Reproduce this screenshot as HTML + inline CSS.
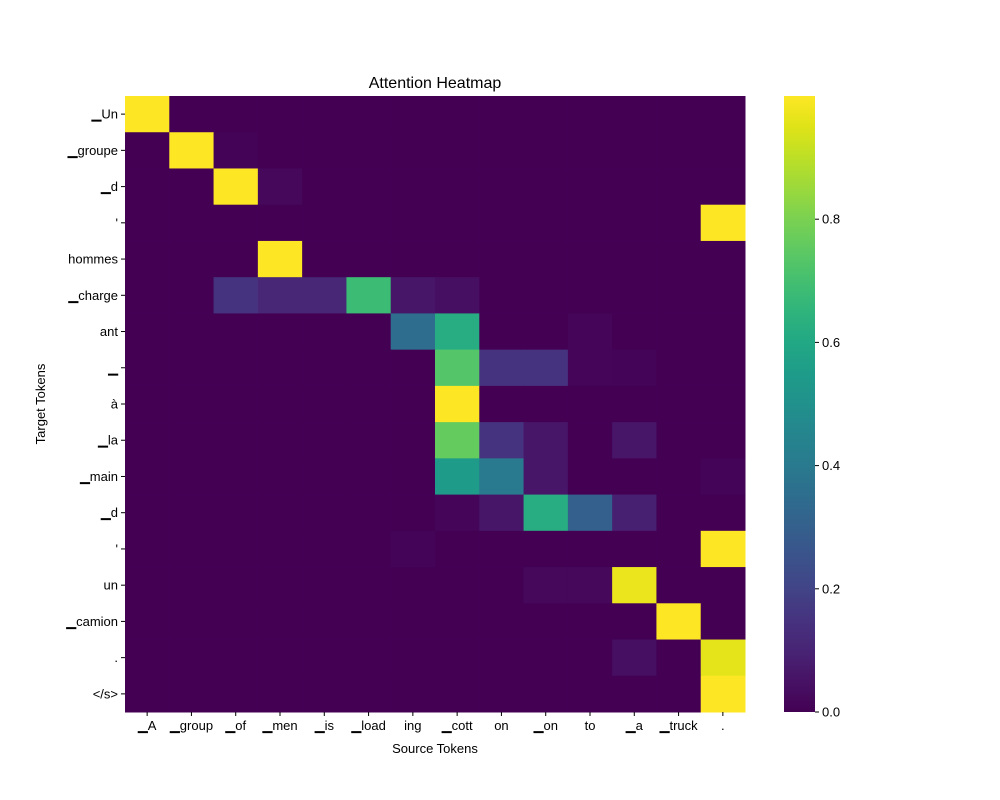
<!DOCTYPE html>
<html><head><meta charset="utf-8"><style>body{margin:0;background:#fff}svg{display:block;font-family:"Liberation Sans","DejaVu Sans",sans-serif}</style></head>
<body>
<svg id="chart" width="1000" height="800">
<text x="435" y="88" font-size="16" text-anchor="middle">Attention Heatmap</text>
<g id="cells"></g>
<g id="xt"></g>
<g id="yt"></g>
<text x="435" y="753" font-size="13" text-anchor="middle">Source Tokens</text>
<text transform="translate(45,404) rotate(-90)" font-size="13" text-anchor="middle">Target Tokens</text>
<defs><linearGradient id="cg" x1="0" y1="1" x2="0" y2="0"></linearGradient></defs>
<rect x="784" y="96" width="31" height="616" fill="url(#cg)"/>
<g id="cb"></g>
</svg>
<script>
const sourceTokens=["▁A","▁group","▁of","▁men","▁is","▁load","ing","▁cott","on","▁on","to","▁a","▁truck","."];
const targetTokens=["▁Un","▁groupe","▁d","'","hommes","▁charge","ant","▁","à","▁la","▁main","▁d","'","un","▁camion",".","</s>"];
const attention=[
[1,0,0,0,0,0,0,0,0,0,0,0,0,0],
[0,1,0.005,0,0,0,0,0,0,0,0,0,0,0],
[0,0,1,0.02,0,0,0,0,0,0,0,0,0,0],
[0,0,0,0,0,0,0,0,0,0,0,0,0,1],
[0,0,0,1,0,0,0,0,0,0,0,0,0,0],
[0,0,0.15,0.11,0.11,0.68,0.06,0.04,0,0,0,0,0,0],
[0,0,0,0,0,0,0.35,0.62,0,0,0.015,0,0,0],
[0,0,0,0,0,0,0,0.73,0.15,0.15,0.015,0.008,0,0],
[0,0,0,0,0,0,0,1,0,0,0,0,0,0],
[0,0,0,0,0,0,0,0.76,0.15,0.06,0,0.06,0,0],
[0,0,0,0,0,0,0,0.55,0.4,0.06,0,0,0,0.008],
[0,0,0,0,0,0,0,0.015,0.06,0.62,0.3,0.09,0,0],
[0,0,0,0,0,0,0.008,0,0,0,0,0,0,1],
[0,0,0,0,0,0,0,0,0,0.02,0.02,0.97,0,0],
[0,0,0,0,0,0,0,0,0,0,0,0,1,0],
[0,0,0,0,0,0,0,0,0,0,0,0.04,0,0.96],
[0,0,0,0,0,0,0,0,0,0,0,0,0,1]];
const cbTicks=[0,0.2,0.4,0.6,0.8];
const cbTickLabels=["0.0","0.2","0.4","0.6","0.8"];
const VMIN=0,VMAX=1;
const V=[[68,1,84],[71,18,101],[72,36,117],[70,51,127],[65,68,135],[59,82,139],[52,96,141],[46,109,142],[41,122,142],[37,133,142],[33,145,140],[30,156,137],[34,168,132],[47,180,124],[68,191,112],[94,201,98],[122,209,81],[155,217,60],[189,223,38],[223,227,24],[253,231,37]];
function vir(t){const n=V.length-1;t=Math.max(0,Math.min(1,t))*n;const i=Math.min(n-1,Math.floor(t)),f=t-i;const a=V[i],b=V[i+1];return`rgb(${a.map((c,k)=>Math.round(c+(b[k]-c)*f)).join(',')})`}
const L=125,T=96,W=620,H=616,NS="http://www.w3.org/2000/svg";
const cw=W/sourceTokens.length,ch=H/targetTokens.length;
const xS=i=>L+i*cw,yS=j=>T+j*ch,cS=v=>T+H-(v-VMIN)/(VMAX-VMIN)*H;
function mk(t,a,p){const e=document.createElementNS(NS,t);for(const k in a)e.setAttribute(k,a[k]);p.appendChild(e);return e}
const cells=document.getElementById('cells');
attention.forEach((row,j)=>row.forEach((v,i)=>{const r=mk('rect',{x:xS(i),y:yS(j),width:cw+0.5,height:ch+0.5,fill:vir((v-VMIN)/(VMAX-VMIN))},cells);

}));
const xt=document.getElementById('xt');
sourceTokens.forEach((s,i)=>{const x=xS(i)+cw/2;mk('line',{x1:x,x2:x,y1:T+H,y2:T+H+4,stroke:'#000'},xt);
const t=mk('text',{x:x,y:T+H+18,'font-size':13,'text-anchor':'middle'},xt);t.textContent=s;

});
const yt=document.getElementById('yt');
targetTokens.forEach((s,j)=>{const y=yS(j)+ch/2;mk('line',{x1:L-4,x2:L,y1:y,y2:y,stroke:'#000'},yt);
const t=mk('text',{x:L-7,y:y+4.5,'font-size':13,'text-anchor':'end'},yt);t.textContent=s;

});
const g=document.getElementById('cg');
for(let k=0;k<=20;k++)mk('stop',{offset:k/20,'stop-color':vir(k/20)},g);
const cb=document.getElementById('cb');
cbTicks.forEach((v,k)=>{const y=cS(v);mk('line',{x1:815,x2:819,y1:y,y2:y,stroke:'#000'},cb);
const t=mk('text',{x:822,y:y+4.5,'font-size':13},cb);t.textContent=cbTickLabels[k];

});
</script>
</body></html>
